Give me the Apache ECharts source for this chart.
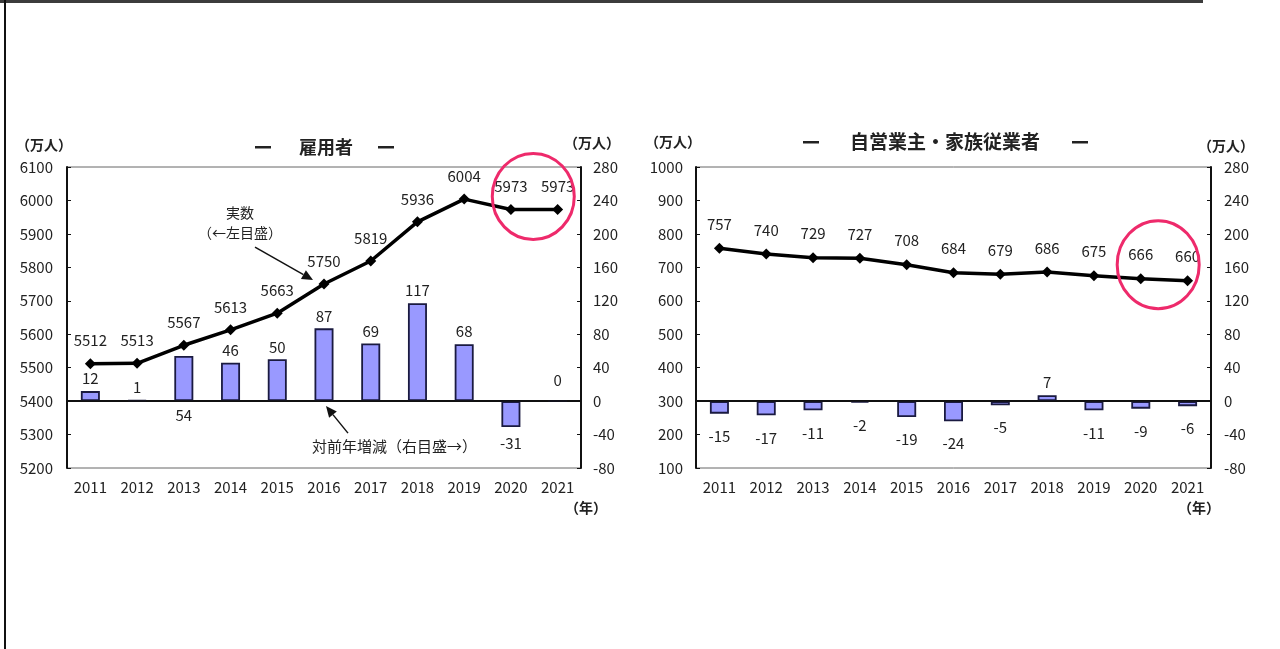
<!DOCTYPE html>
<html><head><meta charset="utf-8">
<script src="https://cdn.jsdelivr.net/npm/echarts@6/dist/echarts.min.js"></script>
<style>html,body{margin:0;padding:0;background:#fff}#c{width:1280px;height:649px}</style>
</head><body><div id="c"></div>
<script>
// ---- data ----
const years = ['2011','2012','2013','2014','2015','2016','2017','2018','2019','2020','2021'];
const employeeLevel = [5512,5513,5567,5613,5663,5750,5819,5936,6004,5973,5973];
const employeeChange = [12,1,54,46,50,87,69,117,68,-31,0];
const selfLevel = [757,740,729,727,708,684,679,686,675,666,660];
const selfChange = [-15,-17,-11,-2,-19,-24,-5,7,-11,-9,-6];
const leftTicks = {min:5200, max:6100, interval:100};
const selfTicks = {min:100, max:1000, interval:100};
const changeTicks = {min:-80, max:280, interval:40};

const NUM = "'Liberation Sans Narrow','Arial Narrow','Noto Sans CJK JP',sans-serif";
const JP = "'Noto Sans CJK JP',sans-serif";
const TXT = '#222';
const BAR = '#9999ff';

const chart = echarts.init(document.getElementById('c'), null, {renderer:'canvas'});

function xAx(gi){
  return {type:'category', gridIndex:gi, data:years, boundaryGap:true,
    axisTick:{show:false}, axisLine:{show:true, lineStyle:{color:'#111', width:2}},
    axisLabel:{margin:12, fontSize:15, color:TXT, fontFamily:NUM}};
}
function yAx(gi, pos, t, margin){
  return {type:'value', gridIndex:gi, position:pos, min:t.min, max:t.max, interval:t.interval,
    axisLine:{show:true, lineStyle:{color:'#111', width:2}},
    axisTick:{show:true, inside:true, length:4, lineStyle:{color:'#111', width:1}},
    splitLine:{show:false},
    axisLabel:{margin:margin, fontSize:15, color:TXT, fontFamily:NUM, formatter:v => String(v)}};
}
function barItems(vals, dNeg, below){
  return vals.map((v,i)=>{
    let pos = v < 0 ? 'bottom' : 'top';
    let dist = v < 0 ? dNeg : 5;
    if (below && below.indexOf(years[i]) >= 0) { pos = 'bottom'; dist = 7; }
    if (v === 0) dist = 12;
    return {value:v, label:{position:pos, distance:dist}};
  });
}
function barSeries(xi, yi, data){
  return {type:'bar', xAxisIndex:xi, yAxisIndex:yi, data:data, barWidth:19,
    itemStyle:{color:BAR, borderColor:'#1a1a40', borderWidth:1.8},
    label:{show:true, fontSize:15, color:TXT, fontFamily:NUM, formatter:p => String(p.value)},
    markLine:{silent:true, symbol:['none','none'], label:{show:false},
      lineStyle:{color:'#111', width:1.5, type:'solid'}, data:[{yAxis:0}]},
    z:2};
}
function lineSeries(xi, yi, data, dist){
  return {type:'line', xAxisIndex:xi, yAxisIndex:yi, data:data,
    symbol:'diamond', symbolSize:11,
    lineStyle:{color:'#000', width:3.5}, itemStyle:{color:'#000'},
    label:{show:true, position:'top', distance:dist, fontSize:15, color:TXT, fontFamily:NUM, formatter:p => String(p.value)},
    z:5};
}

chart.setOption({
  animation:false,
  backgroundColor:'#fff',
  grid:[
    {left:67, top:167, width:514, height:301, show:true, borderColor:'#666', borderWidth:1},
    {left:696, top:167, width:515, height:301, show:true, borderColor:'#666', borderWidth:1}
  ],
  xAxis:[xAx(0), xAx(1)],
  yAxis:[
    yAx(0,'left',leftTicks,14), yAx(0,'right',changeTicks,12),
    yAx(1,'left',selfTicks,13), yAx(1,'right',changeTicks,13)
  ],
  series:[
    barSeries(0,1,barItems(employeeChange, 9, ['2013'])),
    lineSeries(0,0,employeeLevel, 10),
    barSeries(1,3,barItems(selfChange, 15, [])),
    lineSeries(1,2,selfLevel, 11)
  ]
});

// ---- annotations ----
function P(si, x, y){ return chart.convertToPixel({seriesIndex:si}, [x, y]); }
function txt(x, y, s, size, align, weight){
  return {type:'text', x:x, y:y, style:{text:s, fontSize:size, fontFamily:JP, fill:TXT,
    align:align||'center', verticalAlign:'middle', fontWeight:weight||'normal'}, z:10};
}
function arrow(x1,y1,x2,y2){
  const a = Math.atan2(y2-y1, x2-x1), L = 11, W = 5;
  const bx = x2 - L*Math.cos(a), by = y2 - L*Math.sin(a);
  const px = -Math.sin(a)*W, py = Math.cos(a)*W;
  return [
    {type:'line', shape:{x1:x1,y1:y1,x2:bx,y2:by}, style:{stroke:'#111', lineWidth:1.5}, z:10},
    {type:'polygon', shape:{points:[[x2,y2],[bx+px,by+py],[bx-px,by-py]]}, style:{fill:'#111'}, z:10}
  ];
}
function dash(cx, cy){
  return {type:'rect', shape:{x:cx-8, y:cy-1, width:16, height:2.5}, style:{fill:'#222'}, z:10};
}
const e20 = P(1, '2020', employeeLevel[9]), e21 = P(1, '2021', employeeLevel[10]);
const s20 = P(3, '2020', selfLevel[9]), s21 = P(3, '2021', selfLevel[10]);
const e16 = P(1, '2016', employeeLevel[5]);
const b16 = P(0, '2016', 0);

const g = [
  {type:'rect', shape:{x:0, y:0, width:1203, height:3}, style:{fill:'#3c3c3c'}, z:20},
  {type:'rect', shape:{x:4, y:0, width:2, height:649}, style:{fill:'#111'}, z:20},
  // titles
  dash(263, 147), txt(326, 147, '雇用者', 18, 'center', 'bold'), dash(386, 147),
  dash(811, 142), txt(945, 142, '自営業主・家族従業者', 19, 'center', 'bold'), dash(1080, 142),
  // units
  txt(44, 145, '（万人）', 14, 'center', 'bold'), txt(592, 143, '（万人）', 14, 'center', 'bold'),
  txt(673, 142, '（万人）', 14, 'center', 'bold'), txt(1226, 146, '（万人）', 14, 'center', 'bold'),
  txt(586, 508, '（年）', 14, 'center', 'bold'), txt(1199, 508, '（年）', 14, 'center', 'bold'),
  // annotation texts
  txt(e16[0]-84, e16[1]-71, '実数', 14), txt(e16[0]-84, e16[1]-51, '（←左目盛）', 14),
  txt(b16[0]-12, b16[1]+45, '対前年増減（右目盛→）', 15, 'left'),
  // circles
  {type:'ellipse', shape:{cx:(e20[0]+e21[0])/2-1, cy:(e20[1]+e21[1])/2-13, rx:41, ry:43},
    style:{fill:'none', stroke:'#ee2a6b', lineWidth:3}, z:15},
  {type:'ellipse', shape:{cx:(s20[0]+s21[0])/2-6, cy:(s20[1]+s21[1])/2-15, rx:41, ry:44},
    style:{fill:'none', stroke:'#ee2a6b', lineWidth:3}, z:15}
].concat(arrow(e16[0]-69, e16[1]-37, e16[0]-11, e16[1]-4))
 .concat(arrow(b16[0]+24, b16[1]+32, b16[0]+2, b16[1]+5));

chart.setOption({graphic:g});
</script>
</body></html>
